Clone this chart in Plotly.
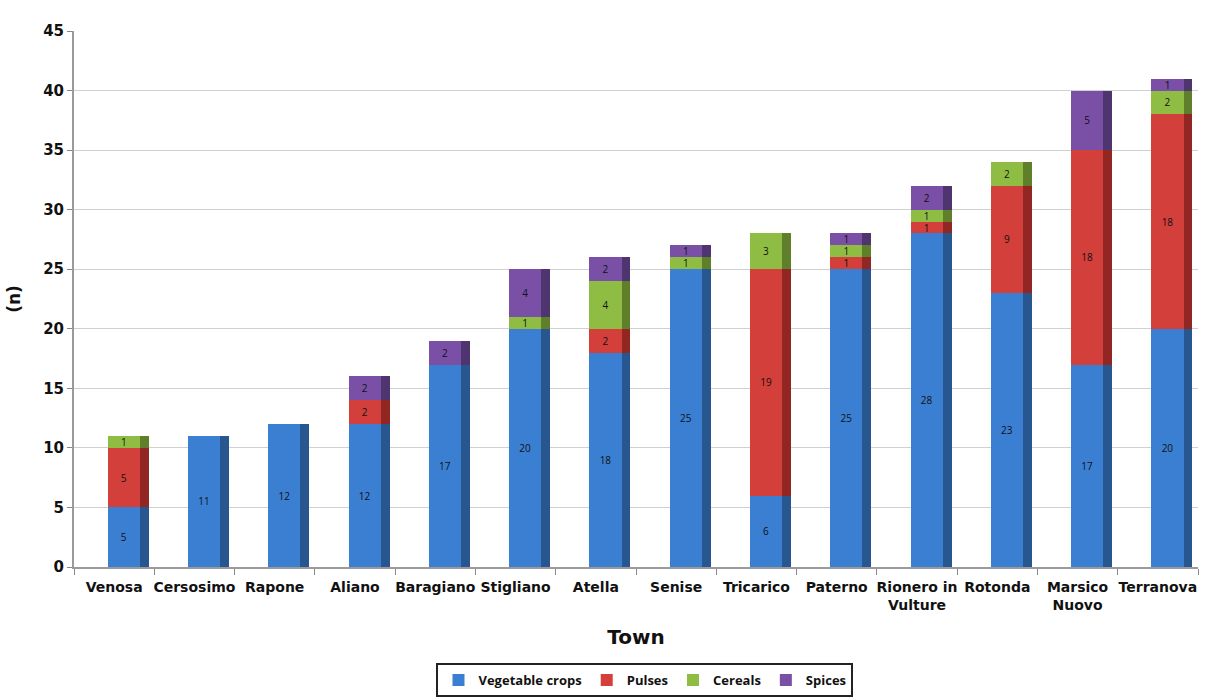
import plotly.graph_objects as go

towns = ["Venosa", "Cersosimo", "Rapone", "Aliano", "Baragiano", "Stigliano", "Atella",
         "Senise", "Tricarico", "Paterno", "Rionero in<br>Vulture", "Rotonda",
         "Marsico<br>Nuovo", "Terranova"]
vegetable = [5, 11, 12, 12, 17, 20, 18, 25, 6, 25, 28, 23, 17, 20]
pulses =    [5, 0, 0, 2, 0, 0, 2, 0, 19, 1, 1, 9, 18, 18]
cereals =   [1, 0, 0, 0, 0, 1, 4, 1, 3, 1, 1, 2, 0, 2]
spices =    [0, 0, 0, 2, 2, 4, 2, 1, 0, 1, 2, 0, 5, 1]

series = [
    ("Vegetable crops", vegetable, "#3b7fd2", "#28578f"),
    ("Pulses", pulses, "#d33f3a", "#922623"),
    ("Cereals", cereals, "#8fbd44", "#5f7f2a"),
    ("Spices", spices, "#7a50a6", "#4f3570"),
]

font_family = "Open Sans, DejaVu Sans, sans-serif"
axis_font = "DejaVu Sans, sans-serif"

fig = go.Figure()
# front faces
for name, vals, color, dark in series:
    fig.add_trace(go.Bar(
        x=towns, y=vals, name=name,
        width=0.40, offset=-0.08,
        marker=dict(color=color, line=dict(width=0)),
        text=[str(v) if v > 0 else "" for v in vals],
        textposition="inside", insidetextanchor="middle", textangle=0,
        constraintext="none",
        textfont=dict(size=10, color="#111111", family=font_family),
        cliponaxis=False,
    ))
# side faces (pseudo-3D), on an overlaid axis so they stack separately
for name, vals, color, dark in series:
    fig.add_trace(go.Bar(
        x=towns, y=vals, name=name, showlegend=False, hoverinfo="skip",
        width=0.11, offset=0.32,
        marker=dict(color=dark, line=dict(width=0)),
        xaxis="x2",
    ))

fig.update_layout(
    barmode="stack",
    width=1206, height=697,
    margin=dict(l=74, r=8, t=31, b=130, autoexpand=False),
    paper_bgcolor="white", plot_bgcolor="white",
    font=dict(family=font_family, color="#111111"),
    uniformtext=dict(minsize=10, mode="show"),
    xaxis=dict(
        tickson="boundaries", ticks="outside", ticklen=6, tickcolor="#888888",
        tickangle=0, ticklabelstandoff=6,
        showline=True, linecolor="#9a9a9a", linewidth=2,
        tickfont=dict(size=14, weight="bold", family=axis_font),
        title=dict(text="Town", font=dict(size=20, weight="bold", family=axis_font), standoff=18),
        showgrid=False,
    ),
    xaxis2=dict(overlaying="x", visible=False, showgrid=False),
    yaxis=dict(
        range=[0, 45], dtick=5, ticks="outside", ticklen=5, tickcolor="#888888",
        showline=True, linecolor="#9a9a9a", linewidth=2,
        showgrid=True, gridcolor="#d0d0d0", gridwidth=1,
        tickfont=dict(size=15, weight="bold", family=axis_font),
        title=dict(text="(n)", font=dict(size=17, weight="bold", family=axis_font), standoff=18),
        zeroline=False,
    ),
    legend=dict(
        orientation="h", x=0.508, xanchor="center", y=-0.179, yanchor="top",
        bordercolor="#222222", borderwidth=2, bgcolor="white",
        font=dict(size=13, weight="bold", family=font_family),
        traceorder="normal",
        itemwidth=30,
    ),
)

fig.write_html("out.html")
